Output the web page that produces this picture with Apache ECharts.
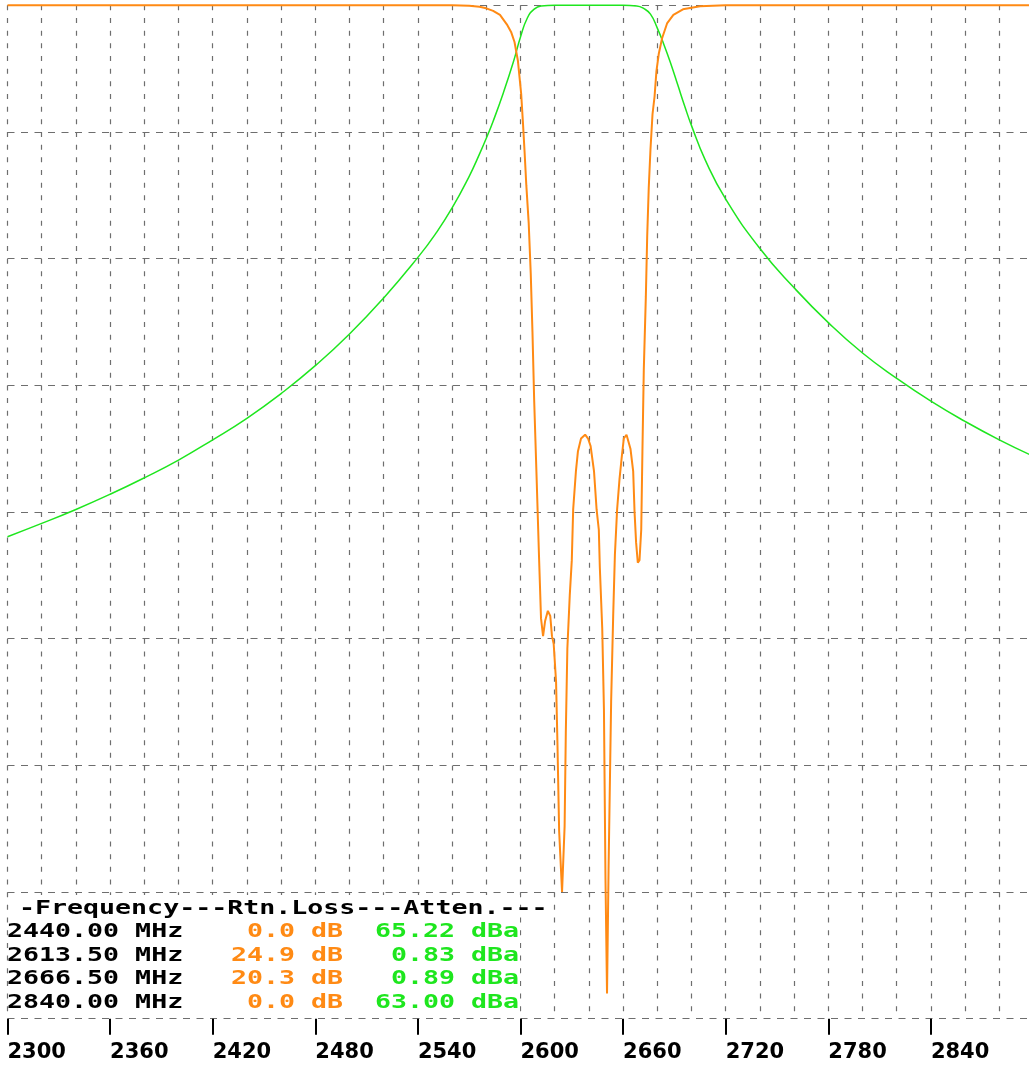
<!DOCTYPE html>
<html>
<head>
<meta charset="utf-8">
<script src="https://cdn.jsdelivr.net/npm/echarts@6/dist/echarts.min.js"></script>
<style>
  html, body { margin: 0; padding: 0; background: #fff; }
  #chart { width: 1029px; height: 1067px; }
</style>
</head>
<body>
<div id="chart"></div>
<script>
// frequency axis, MHz
var freqMin = 2300, freqMax = 2900;
var labelStep = 60, gridStep = 20;

// return loss trace (dB, 0 at top)
var rlFreq = [2300, 2560, 2570, 2576, 2580, 2584, 2588, 2592, 2594.5, 2596.5,
  2598.5, 2600.4, 2601.4, 2602.4, 2603.4, 2604.8, 2606, 2607, 2608, 2609.4,
  2610.8, 2612, 2613.2, 2614.4, 2616, 2617.4, 2618.4, 2619.4, 2620.8, 2621.6,
  2622.6, 2624.3, 2625.8, 2626.5, 2627.4, 2628.8, 2630, 2630.8, 2632.4, 2633.6,
  2635.4, 2637.8, 2639.5, 2641, 2643, 2644.5, 2645.8, 2646.4, 2647.8, 2648.8,
  2649.7, 2650.6, 2651.5, 2653, 2654.2, 2655.2, 2656.5, 2657.9, 2659.1, 2660.4,
  2662, 2664.3, 2665.9, 2666.7, 2667.6, 2668.6, 2669.6, 2670.6, 2671.3, 2672.1,
  2673.3, 2674.1, 2675, 2676, 2677.2, 2678.4, 2679.5, 2680.9, 2682.8, 2685.8,
  2689.4, 2695, 2705, 2720, 2900];
var rlVal = [0, 0, 0.02, 0.06, 0.12, 0.22, 0.38, 0.75, 1.05, 1.45,
  2.2, 3.5, 4.6, 5.8, 7.1, 8.6, 10.6, 12.9, 15.6, 18.6,
  21.7, 24.2, 24.9, 24.3, 23.9, 24.1, 24.9, 25.2, 26.7, 29.1,
  32.6, 35.0, 32.4, 28.7, 25.4, 23.3, 21.9, 19.9, 18.4, 17.6,
  17.1, 16.95, 17.1, 17.4, 18.4, 19.9, 20.7, 22.2, 24.6, 27.8,
  34.5, 39.0, 34.1, 27.5, 24.1, 21.7, 19.9, 18.7, 17.9, 17.1,
  16.95, 17.5, 18.4, 20.0, 21.2, 22.0, 21.9, 20.7, 17.6, 14.4,
  11.5, 9.1, 7.2, 5.7, 4.3, 3.6, 2.6, 1.9, 1.3, 0.7,
  0.38, 0.16, 0.04, 0, 0];

// attenuation trace (dBa, 0 at top)
var attFreq = [2300, 2320, 2340, 2360, 2380, 2400, 2420, 2440, 2460, 2480,
  2500, 2520, 2540, 2550, 2560, 2570, 2576, 2580, 2584, 2590,
  2596, 2600, 2604, 2608, 2612, 2620, 2660, 2668, 2672, 2676,
  2680, 2684, 2688, 2692, 2696, 2700, 2708, 2720, 2740, 2760,
  2780, 2800, 2820, 2840, 2860, 2880, 2900];
var attVal = [83.9, 81.8, 79.6, 77.2, 74.6, 71.8, 68.6, 65.2, 61.3, 56.9,
  51.9, 46.2, 39.8, 36.2, 32.0, 27.0, 23.5, 21.0, 18.3, 13.8,
  8.8, 5.0, 2.0, 0.6, 0.1, 0, 0, 0.1, 0.5, 1.4,
  3.6, 6.3, 9.3, 12.6, 15.9, 19.0, 24.4, 30.6, 38.4, 44.6,
  50.1, 54.9, 58.9, 62.5, 65.7, 68.6, 71.2];

// marker readout table
var tableHeader = '-Frequency---Rtn.Loss---Atten.---';
var markerFreq = [2440.00, 2613.50, 2666.50, 2840.00];
var markerRL = [0.0, 24.9, 20.3, 0.0];
var markerAtt = [65.22, 0.83, 0.89, 63.00];

var orange = '#ff8a14';
var green = '#1ee61e';
var gridColor = '#6e6e6e';

var myChart = echarts.init(document.getElementById('chart'));

function zip(xs, ys) {
  return xs.map(function (x, i) { return [x, ys[i]]; });
}

// monospace cells for the readout, stretched to the wide terminal look
var charW = 16;
var rowY = [909, 932, 955.5, 979, 1002.5];
function cell(text, col, row, color, x0) {
  return {
    type: 'text',
    x: x0 + col * charW,
    y: rowY[row],
    scaleX: 1.33,
    z: 101,
    style: {
      text: text,
      font: 'bold 20px "DejaVu Sans Mono"',
      fill: color,
      verticalAlign: 'middle'
    }
  };
}

var graphic = [{
  type: 'rect',
  z: 100,
  shape: { x: 9, y: 895, width: 511, height: 121 },
  style: { fill: '#fff' }
}, cell(tableHeader, 0, 0, '#000', 19)];

markerFreq.forEach(function (f, i) {
  graphic.push(cell(f.toFixed(2) + ' MHz', 0, i + 1, '#000', 7));
  graphic.push(cell(markerRL[i].toFixed(1).padStart(4, ' ') + ' dB', 14, i + 1, orange, 7));
  graphic.push(cell(markerAtt[i].toFixed(2).padStart(5, ' ') + ' dBa', 23, i + 1, green, 7));
});

var option = {
  backgroundColor: '#fff',
  animation: false,
  grid: {
    left: 7.5,
    top: 5.3,
    width: 1026,
    height: 1013.4,
    outerBoundsMode: 'none'
  },
  xAxis: [{
    type: 'value',
    position: 'bottom',
    min: freqMin,
    max: freqMax,
    interval: labelStep,
    axisLine: { show: false, onZero: false },
    axisTick: { show: true, length: 16, lineStyle: { color: '#000', width: 2 } },
    axisLabel: {
      align: 'left',
      margin: 23,
      color: '#000',
      fontFamily: 'DejaVu Sans',
      fontWeight: 'bold',
      fontSize: 21,
      showMinLabel: true,
      showMaxLabel: false,
      formatter: function (v) { return String(v); }
    },
    splitLine: { show: false }
  }, {
    // 20 MHz grid
    type: 'value',
    position: 'bottom',
    min: freqMin,
    max: freqMax,
    interval: gridStep,
    axisLine: { show: false, onZero: false },
    axisTick: { show: false },
    axisLabel: { show: false },
    splitLine: { show: true, lineStyle: { color: gridColor, width: 1.2, type: [5, 7.67] } }
  }],
  yAxis: [{
    type: 'value',
    inverse: true,
    min: 0,
    max: 40,
    interval: 5,
    axisLine: { show: false },
    axisTick: { show: false },
    axisLabel: { show: false },
    splitLine: { show: true, lineStyle: { color: gridColor, width: 1.2, type: [7, 6.5] } }
  }, {
    type: 'value',
    inverse: true,
    min: 0,
    max: 160,
    interval: 20,
    show: false,
    splitLine: { show: false }
  }],
  series: [{
    name: 'Atten.',
    type: 'line',
    xAxisIndex: 0,
    yAxisIndex: 1,
    data: zip(attFreq, attVal),
    smooth: 0.5,
    showSymbol: false,
    clip: false,
    lineStyle: { color: green, width: 1.5 }
  }, {
    name: 'Rtn.Loss',
    type: 'line',
    xAxisIndex: 0,
    yAxisIndex: 0,
    data: zip(rlFreq, rlVal),
    showSymbol: false,
    clip: false,
    lineStyle: { color: orange, width: 2 }
  }],
  graphic: graphic
};

myChart.setOption(option);
</script>
</body>
</html>
